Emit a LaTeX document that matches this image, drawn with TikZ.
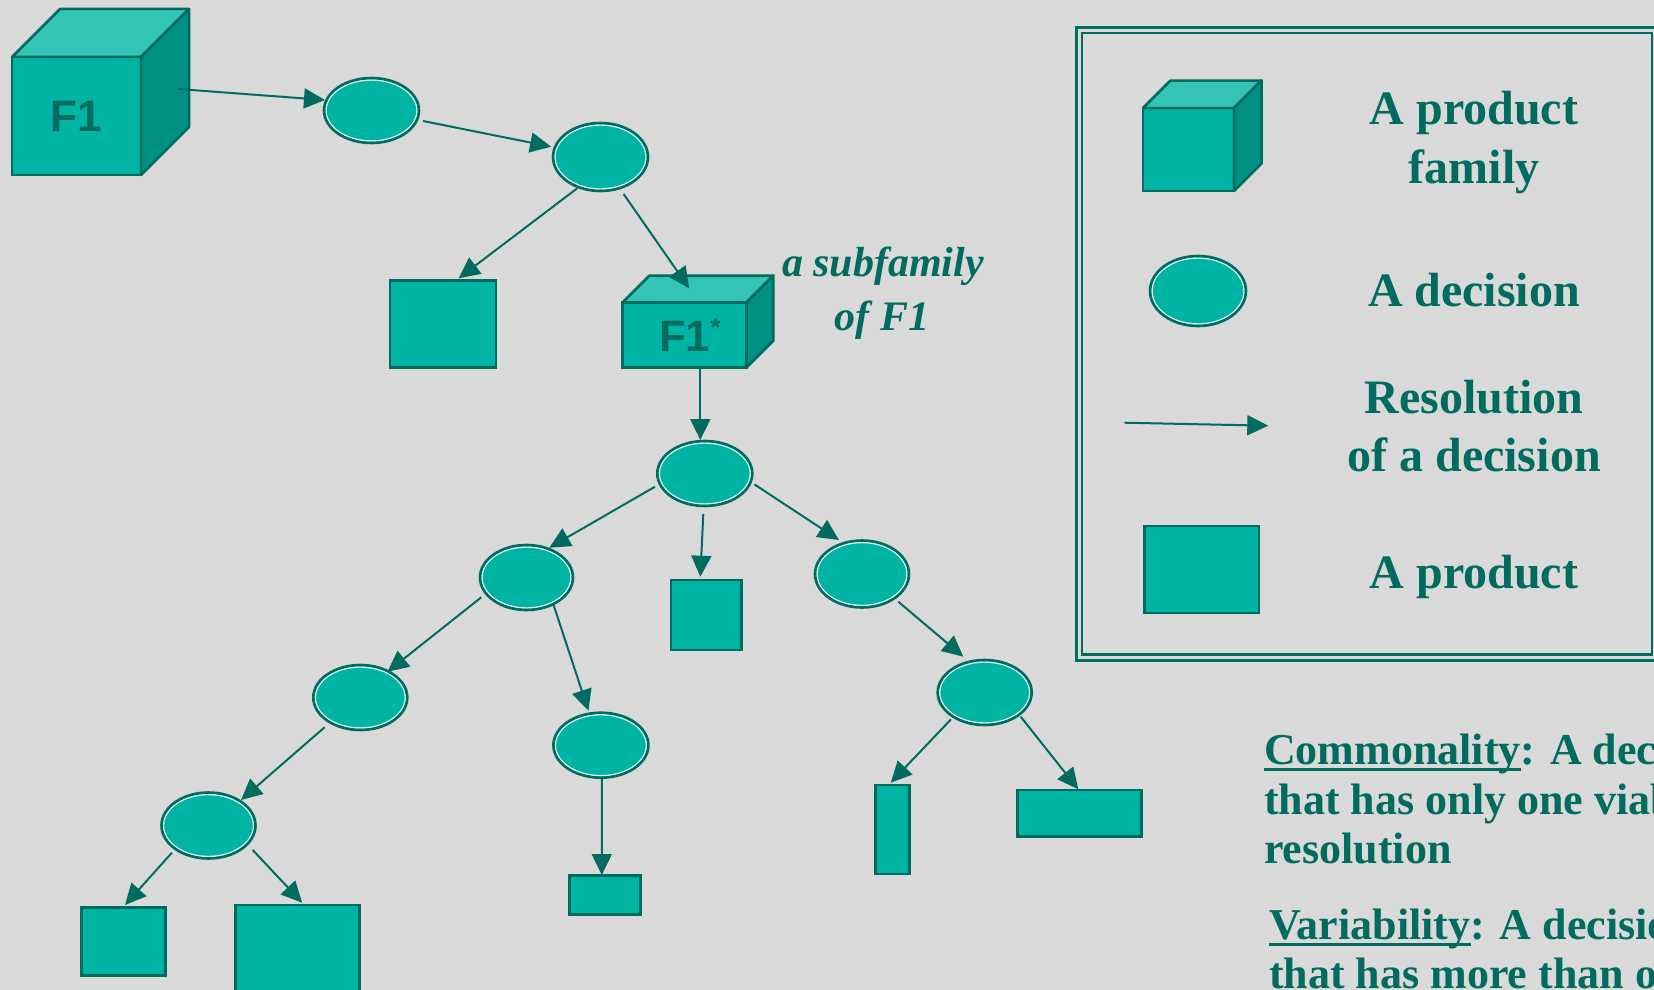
\documentclass[tikz,border=0pt]{standalone}
\usepackage{fontspec}
\setmainfont{Liberation Serif}
\newfontfamily\famfont{Liberation Sans}
\usetikzlibrary{arrows.meta,calc,shapes.geometric}

\definecolor{bgc}{HTML}{D9D9D9}
\definecolor{fillc}{HTML}{00B4A4}
\definecolor{topc}{HTML}{33C4B7}
\definecolor{sidec}{HTML}{009184}
\definecolor{ink}{HTML}{006B5E}
\definecolor{ringc}{HTML}{E3F1EE}

% underlined word with the rule at a fixed depth
\newcommand\ulword[1]{\setbox0\hbox{#1}\rlap{\rule[-6.7pt]{\wd0}{2.6pt}}\box0}

% a product family: front face node plus top and side faces
% #1 name, #2 centre, #3 width, #4 height, #5 depth, #6 label
\newcommand\famcube[6]{%
  \node[famfront, minimum width=#3pt, minimum height=#4pt] (#1) at #2 {#6};
  \draw[famtop] (#1.north west) -- ++(#5,-#5) -- ($(#1.north east)+(#5,-#5)$) -- (#1.north east) -- cycle;
  \draw[famside] (#1.north east) -- ++(#5,-#5) -- ($(#1.south east)+(#5,-#5)$) -- (#1.south east) -- cycle;
}

\tikzset{
  famfront/.style={draw=ink, line width=2.5pt, fill=fillc, inner sep=0, outer sep=0,
    text=ink, font=\famfont\bfseries\fontsize{44}{44}\selectfont},
  famtop/.style={draw=ink, line width=2.5pt, fill=topc, line join=round},
  famside/.style={draw=ink, line width=2.5pt, fill=sidec, line join=round},
  decision/.style={ellipse, draw=ink, line width=2.6pt, fill=fillc, inner sep=0, outer sep=0,
    path picture={\draw[ringc, line width=1.4pt]
      let \p1=(path picture bounding box.north east), \p2=(path picture bounding box.center) in
      (\p2) ellipse [x radius={\x1-\x2-2pt}, y radius={\y1-\y2-2pt}];}},
  product/.style={draw=ink, line width=2.6pt, fill=fillc, inner sep=0, outer sep=0},
  arr/.style={draw=ink, line width=2pt, -{Triangle[length=21pt,width=20pt]}},
  legtext/.style={text=ink, anchor=base, font=\bfseries\fontsize{48}{58}\selectfont},
  subtext/.style={text=ink, anchor=base, font=\bfseries\itshape\fontsize{42}{53}\selectfont},
  bodytext/.style={text=ink, anchor=base west, inner sep=0, font=\bfseries\fontsize{44}{50}\selectfont},
  frame/.style={draw=ink, line width=2.3pt},
}

\begin{document}
\begin{tikzpicture}[x=1pt, y=-1pt]
\useasboundingbox (0,0) rectangle (1654,990);
\clip (0,0) rectangle (1654,990);
\fill[bgc] (0,0) rectangle (1654,990);

% ---- families ----
\famcube{F1}{(76.5,116)}{129}{118}{48}{F1}
\famcube{F1s}{(684.7,334.8)}{124}{65}{26.7}{F1\rlap{\raisebox{14.7pt}{\fontsize{26}{26}\selectfont *}}}

% ---- decisions ----
\node[decision, minimum width=95pt, minimum height=65pt] (E1) at (371.5,110.5) {};
\node[decision, minimum width=95pt, minimum height=68pt] (E2) at (600.5,157) {};
\node[decision, minimum width=95pt, minimum height=65pt] (E3) at (704.8,473.5) {};
\node[decision, minimum width=93pt, minimum height=65pt] (E4) at (526.5,577.5) {};
\node[decision, minimum width=94pt, minimum height=67pt] (E5) at (862,574) {};
\node[decision, minimum width=94pt, minimum height=65pt] (E6) at (984.7,692.5) {};
\node[decision, minimum width=94pt, minimum height=65pt] (E7) at (360.3,697.5) {};
\node[decision, minimum width=95pt, minimum height=65pt] (E8) at (600.9,745.2) {};
\node[decision, minimum width=94pt, minimum height=66pt] (E9) at (208.5,825.5) {};

% ---- products ----
\node[product, minimum width=105.7pt, minimum height=86.6pt] (P1) at (443,324) {};
\node[product, minimum width=70.3pt, minimum height=70pt] (P2) at (706.2,615) {};
\node[product, minimum width=33.6pt, minimum height=89pt] (P3) at (892.5,829.5) {};
\node[product, minimum width=124pt, minimum height=46.7pt] (P4) at (1079.3,813.3) {};
\node[product, minimum width=71pt, minimum height=38.6pt] (P5) at (604.7,895) {};
\node[product, minimum width=84.3pt, minimum height=68pt] (P6) at (123.5,941.7) {};
\node[product, minimum width=124pt, minimum height=105pt] (P7) at (297.7,957.5) {};

% ---- resolutions ----
\draw[arr] ($(F1)+(101.5,-27)$) -- ($(E1)+(-46.5,-10.5)$);
\draw[arr] ($(E1)+(51.5,10.5)$) -- ($(E2)+(-49.4,-10.3)$);
\draw[arr] ($(E2)+(-23.3,31.3)$) -- ($(P1)+(15.6,-45.7)$);
\draw[arr] ($(E2)+(23.1,37)$) -- ($(F1s)+(4.5,-46.5)$);
\draw[arr] ($(F1s)+(15.6,32.5)$) -- ($(E3)+(-4.5,-33.5)$);
\draw[arr] ($(E3)+(-49.8,13.2)$) -- ($(E4)+(22.8,-29.8)$);
\draw[arr] ($(E3)+(-1.5,40.5)$) -- ($(P2)+(-5.9,-38.3)$);
\draw[arr] ($(E3)+(49.5,10.8)$) -- ($(E5)+(-23,-34)$);
\draw[arr] ($(E5)+(36.3,27.7)$) -- ($(E6)+(-21.4,-35.8)$);
\draw[arr] ($(E6)+(-33.7,26.8)$) -- ($(P3)+(-1.8,-46.8)$);
\draw[arr] ($(E6)+(36,24.2)$) -- ($(P4)+(-1,-24)$);
\draw[arr] ($(E4)+(-45.2,19.8)$) -- ($(E7)+(27.2,-25.8)$);
\draw[arr] ($(E4)+(27.1,27.5)$) -- ($(E8)+(-12.5,-34.5)$);
\draw[arr] ($(E7)+(-35.7,29.8)$) -- ($(E9)+(32.5,-25.5)$);
\draw[arr] ($(E8)+(0.9,33.1)$) -- ($(P5)+(-2.9,-20)$);
\draw[arr] ($(E9)+(-36.6,27.2)$) -- ($(P6)+(1.5,-36.7)$);
\draw[arr] ($(E9)+(44.2,24.5)$) -- ($(P7)+(4.5,-54.8)$);

% ---- subfamily note ----
\node[subtext] (sub1) at (883,276.7) {a subfamily};
\node[subtext] (sub2) at (882,330) {of F1};

% ---- legend ----
\draw[frame] (1076.5,27.5) rectangle (1660,660.5);
\draw[frame] (1082.2,33.3) rectangle (1651.7,654.5);
\famcube{LF}{(1188.5,149.5)}{91}{83}{27.5}{}
\node[decision, minimum width=96pt, minimum height=70pt] (LE) at (1198,291) {};
\coordinate (la1) at (1124.3,422.7);
\coordinate (la2) at (1268.3,425.7);
\draw[arr] (la1) -- (la2);
\node[product, minimum width=114.3pt, minimum height=87pt] (LP) at (1201.7,569.3) {};
\node[legtext] (lt1) at (1474,124.9) {A product};
\node[legtext] (lt2) at (1474,183.7) {family};
\node[legtext] (lt3) at (1474,306) {A decision};
\node[legtext] (lt4) at (1474,413) {Resolution};
\node[legtext] (lt5) at (1474,471) {of a decision};
\node[legtext] (lt6) at (1474,588.7) {A product};

% ---- definitions ----
\node[bodytext] (c1) at (1264,764) {\ulword{Commonality}: A decision};
\node[bodytext] (c2) at (1264,814.3) {that has only one viable};
\node[bodytext] (c3) at (1264,863.3) {resolution};
\node[bodytext] (v1) at (1269,939) {\ulword{Variability}: A decision};
\node[bodytext] (v2) at (1269,988.3) {that has more than one};
\end{tikzpicture}
\end{document}
